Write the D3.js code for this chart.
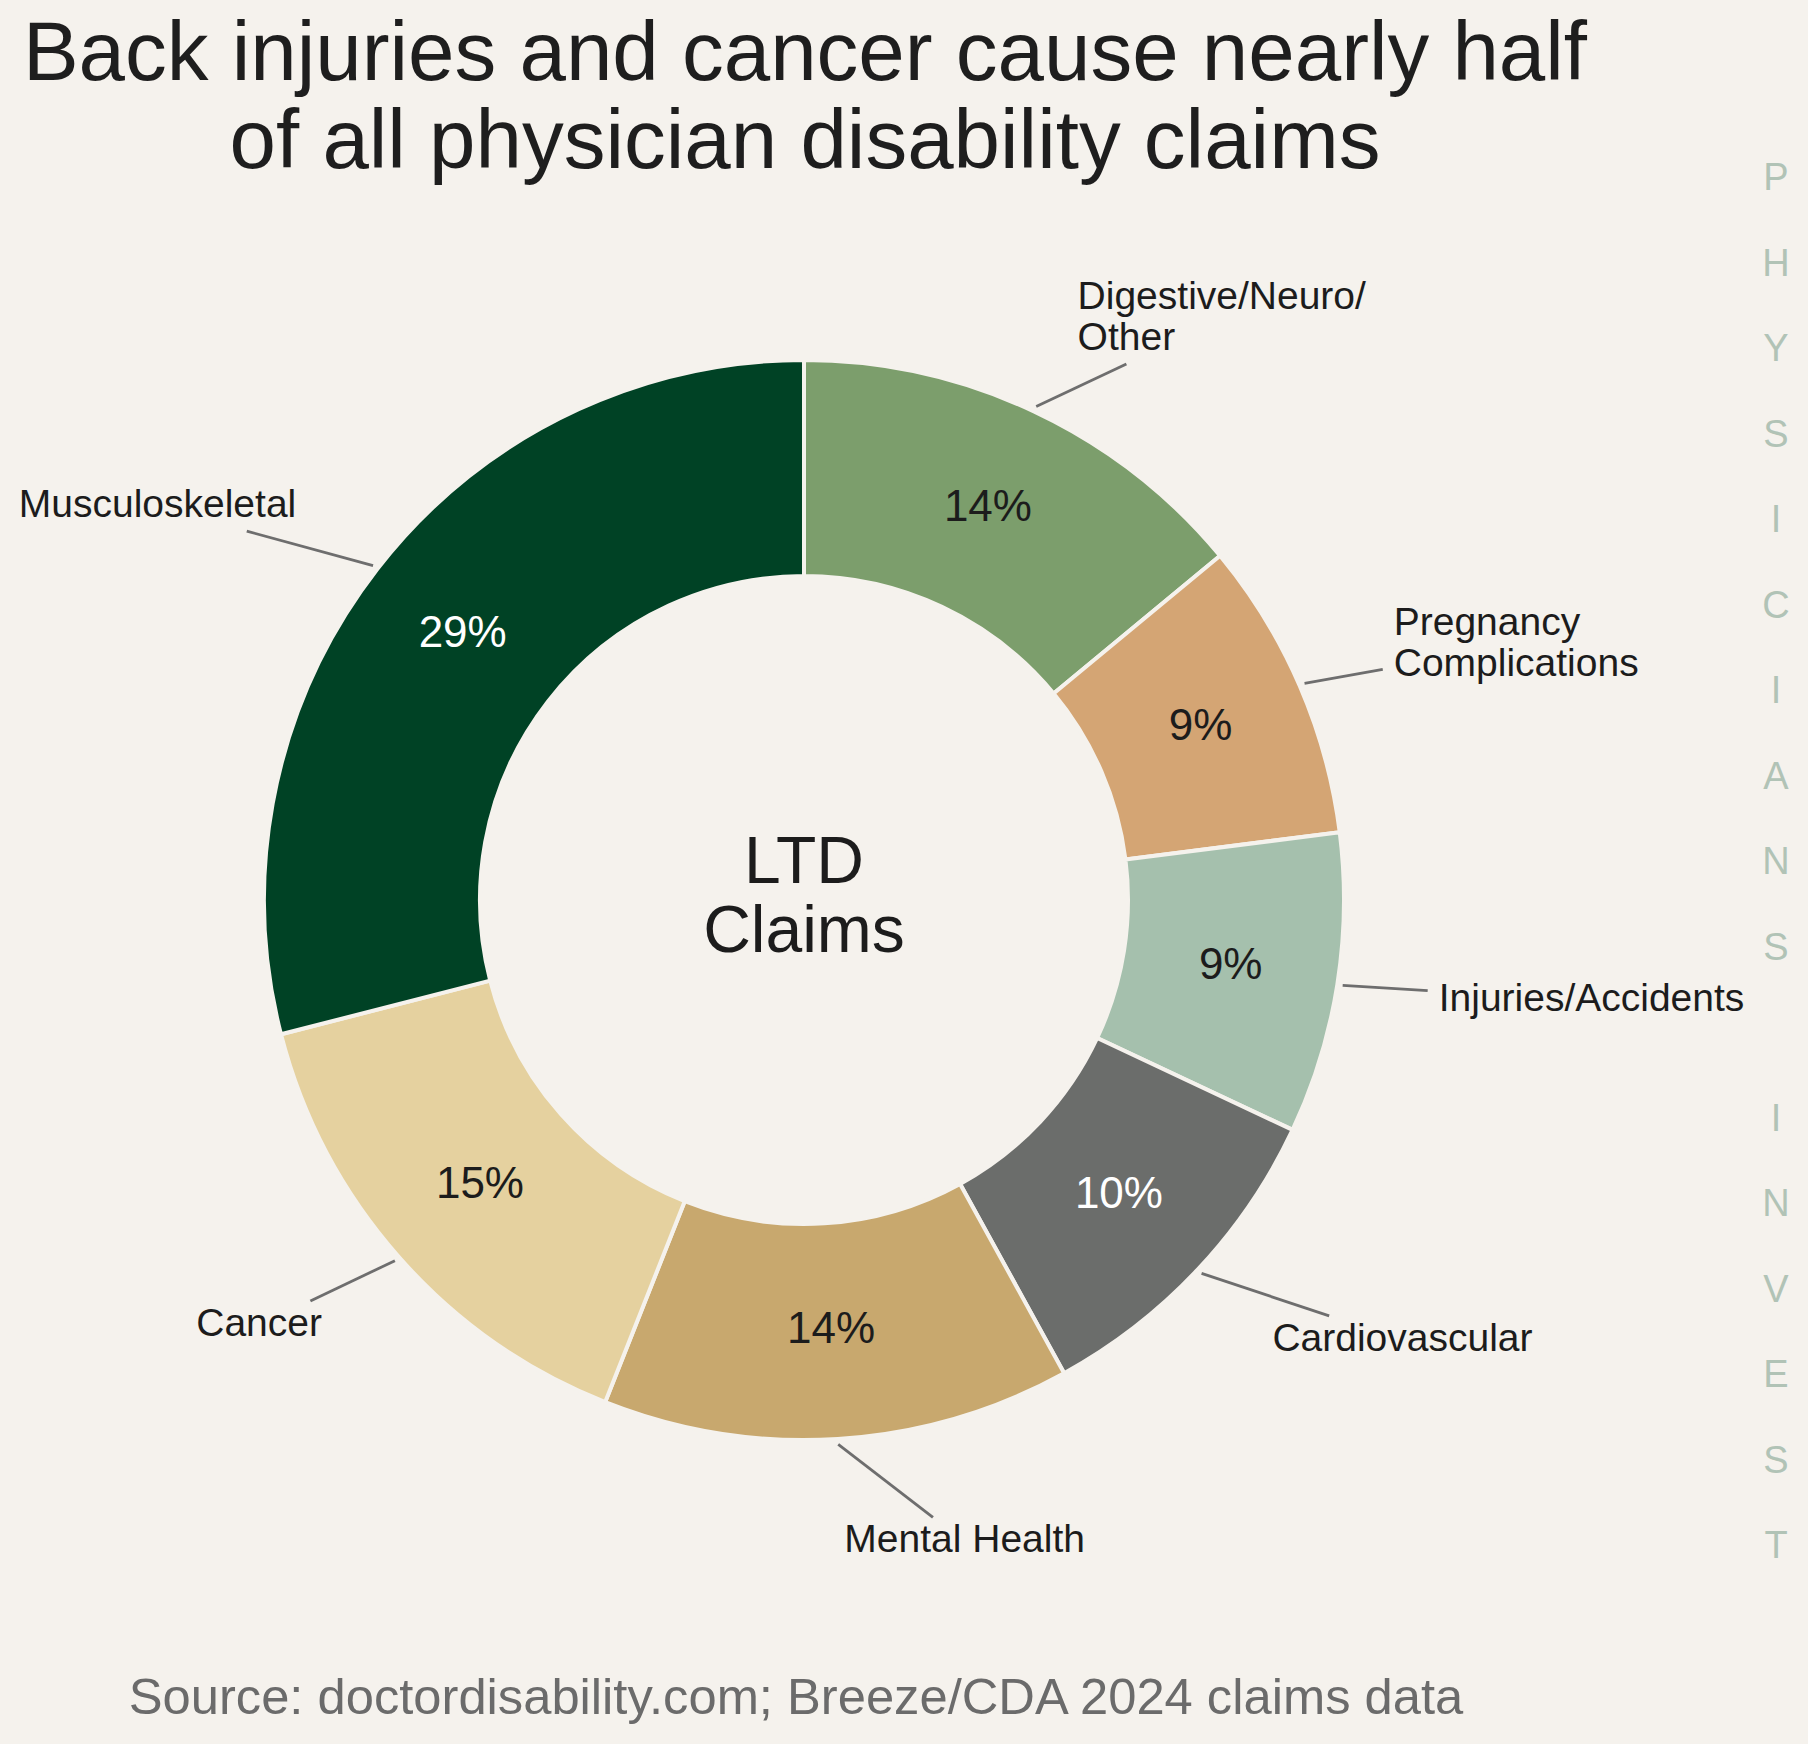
<!DOCTYPE html>
<html>
<head>
<meta charset="utf-8">
<script src="https://cdn.jsdelivr.net/npm/d3@7"></script>
<style>
  html, body { margin: 0; padding: 0; background: #f5f2ed; }
  svg { display: block; }
  text { font-family: "Liberation Sans", Arial, Helvetica, sans-serif; }
</style>
</head>
<body>
<svg id="chart" width="1808" height="1744"></svg>
<script>
// ---- data ----
const categories = ["Digestive/Neuro/\nOther", "Pregnancy\nComplications", "Injuries/Accidents",
                    "Cardiovascular", "Mental Health", "Cancer", "Musculoskeletal"];
const values = [14, 9, 9, 10, 14, 15, 29];
const sliceColors = ["#7c9e6c", "#d4a574", "#a5c0ad", "#6b6d6b", "#c8a86e", "#e5d19f", "#004225"];
const pctColors = ["#1c1c1c", "#1c1c1c", "#1c1c1c", "#ffffff", "#1c1c1c", "#1c1c1c", "#ffffff"];
const titleLines = ["Back injuries and cancer cause nearly half", "of all physician disability claims"];
const centerLines = ["LTD", "Claims"];
const sourceText = "Source: doctordisability.com; Breeze/CDA 2024 claims data";
const watermark = "PHYSICIANS INVEST";

// ---- layout ----
const W = 1808, H = 1744;
const cx = 804, cy = 900;
const R = 540, r0 = 324;
const bg = "#f5f2ed";

const svg = d3.select("#chart");
svg.append("rect").attr("width", W).attr("height", H).attr("fill", bg);

// title
const title = svg.append("text").attr("text-anchor", "middle")
  .attr("font-size", 83.5).attr("fill", "#1e1e1e");
titleLines.forEach((t, i) => {
  title.append("tspan").attr("x", 805).attr("y", 80 + i * 87.7).text(t);
});

const g = svg.append("g").attr("transform", `translate(${cx},${cy})`);

const pie = d3.pie().sort(null).value(d => d).startAngle(0).endAngle(2 * Math.PI);
const arcs = pie(values);
const arc = d3.arc().innerRadius(r0).outerRadius(R);

g.selectAll("path.slice").data(arcs).enter().append("path")
  .attr("class", "slice")
  .attr("d", arc)
  .attr("fill", (d, i) => sliceColors[i])
  .attr("stroke", bg)
  .attr("stroke-width", 4)
  .attr("stroke-linejoin", "round");

// percentages
const pctR = 432;
const fmt = v => Math.round(v / d3.sum(values) * 100) + "%";
g.selectAll("text.pct").data(arcs).enter().append("text")
  .attr("class", "pct")
  .attr("x", d => pctR * Math.sin((d.startAngle + d.endAngle) / 2))
  .attr("y", d => -pctR * Math.cos((d.startAngle + d.endAngle) / 2))
  .attr("dy", "0.27em")
  .attr("text-anchor", "middle")
  .attr("font-size", 44)
  .attr("fill", (d, i) => pctColors[i])
  .text(d => fmt(d.value));

// outer labels with leader lines
const labFs = 39, labLH = 41;
const labR = 1.19 * R, ptR = 1.01 * R;
const lineG = g.append("g");
arcs.forEach((d, i) => {
  const a = (d.startAngle + d.endAngle) / 2;
  const ux = Math.sin(a), uy = -Math.cos(a);
  const tx = labR * ux, ty = labR * uy;
  const lines = categories[i].split("\n");
  const n = lines.length;
  const blockH = 0.716 * labFs + (n - 1) * labLH;
  const firstBase = ty - 3 - blockH / 2 + 0.716 * labFs;
  const t = g.append("text")
    .attr("text-anchor", ux >= 0 ? "start" : "end")
    .attr("font-size", labFs).attr("fill", "#1c1c1c");
  lines.forEach((s, k) => {
    t.append("tspan").attr("x", tx).attr("y", firstBase + k * labLH).text(s);
  });
  const bb = t.node().getBBox();
  const box = {
    x0: bb.x - 11, x1: bb.x + bb.width + 11,
    y0: firstBase - 0.716 * labFs - 7,
    y1: firstBase + (n - 1) * labLH + 14
  };
  const bcx = (box.x0 + box.x1) / 2, bcy = (box.y0 + box.y1) / 2;
  const px = ptR * ux, py = ptR * uy;
  const dx = px - bcx, dy = py - bcy;
  const tX = dx !== 0 ? ((dx > 0 ? box.x1 : box.x0) - bcx) / dx : Infinity;
  const tY = dy !== 0 ? ((dy > 0 ? box.y1 : box.y0) - bcy) / dy : Infinity;
  const tt = Math.min(tX, tY);
  lineG.append("line")
    .attr("x1", px).attr("y1", py)
    .attr("x2", bcx + tt * dx).attr("y2", bcy + tt * dy)
    .attr("stroke", "#6e6e6e").attr("stroke-width", 2.8);
});

// center text
const ct = g.append("text").attr("text-anchor", "middle")
  .attr("font-size", 66).attr("fill", "#1c1c1c");
centerLines.forEach((s, k) => {
  ct.append("tspan").attr("x", 0).attr("y", -17 + k * 69.4).text(s);
});

// source
svg.append("text").attr("x", 796).attr("y", 1714)
  .attr("text-anchor", "middle").attr("font-size", 50.7).attr("fill", "#6b6b6b")
  .text(sourceText);

// vertical watermark
const wm = svg.append("text").attr("text-anchor", "middle")
  .attr("font-size", 38).attr("fill", "#b1c3b6");
watermark.split("").forEach((ch, k) => {
  wm.append("tspan").attr("x", 1776).attr("y", 176.7 + k * 85.5).attr("dy", "0.36em").text(ch);
});
</script>
</body>
</html>
